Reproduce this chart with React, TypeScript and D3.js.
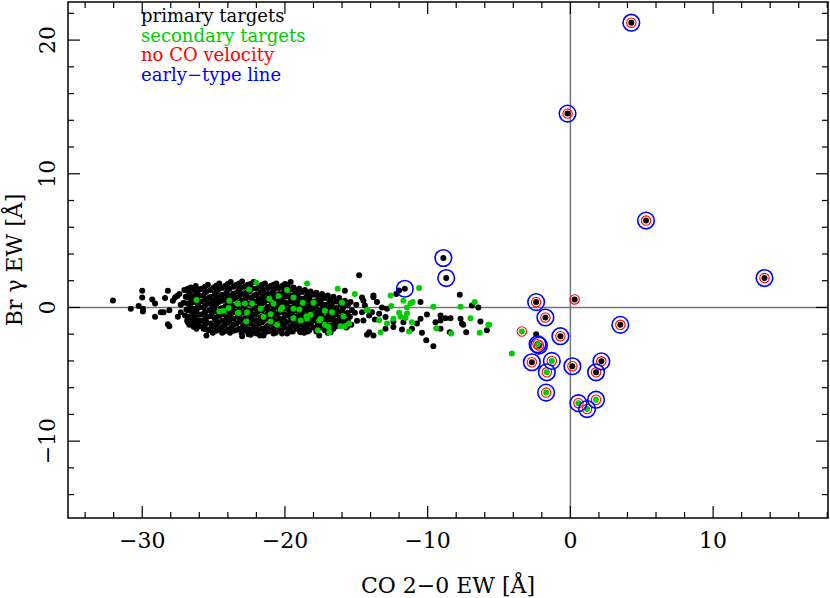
import React from 'react';
import * as d3 from 'd3';

// primary targets (black dots)
const primary: [number, number][] = [
  // left outliers
  [-32.05, 0.52], [-30.8, -0.1], [-30.0, 1.25], [-30.0, 0.75], [-30.25, 0.1], [-29.95, -0.1], [-29.95, -0.3],
  [-29.3, 0.6], [-29.1, 0.3], [-29.1, -0.7], [-28.7, -0.35], [-28.5, -0.35], [-28.4, 0.7], [-28.2, 1.25],
  [-28.1, -0.2], [-28.2, -1.25], [-28.1, -1.4], [-27.85, 0.5], [-27.7, 0.75], [-27.55, 0.85], [-27.3, 0.2],
  [-27.3, -0.35], [-26.8, 1.4], [-25.7, -1.6], [-25.5, -2.1], [-24.9, -1.35], [-27.4, 1.0], [-27.5, -0.7],
  // main cloud
  [-27.05, 1.3], [-26.95, 0.8], [-27.1, 0.35], [-26.9, -0.15], [-27.0, -0.6], [-26.85, -1.0],
  [-26.6, 1.5], [-26.7, 1.0], [-26.55, 0.6], [-26.65, 0.1], [-26.5, -0.4], [-26.6, -0.9], [-26.7, -1.3],
  [-26.25, 1.6], [-26.15, 1.1], [-26.3, 0.75], [-26.1, 0.2], [-26.2, -0.3], [-26.3, -0.8], [-26.1, -1.2], [-26.2, -1.6],
  [-25.85, 1.4], [-25.75, 0.9], [-25.9, 0.45], [-25.7, 0.0], [-25.8, -0.5], [-25.9, -1.0], [-25.75, -1.45],
  [-25.4, 1.7], [-25.5, 1.2], [-25.35, 0.7], [-25.45, 0.3], [-25.3, -0.2], [-25.4, -0.7], [-25.5, -1.1], [-25.35, -1.7],
  [-25.0, 1.5], [-24.9, 1.0], [-25.05, 0.5], [-24.95, 0.05], [-25.1, -0.4], [-24.9, -0.9], [-25.0, -1.4], [-25.05, -1.9],
  [-24.6, 1.8], [-24.7, 1.3], [-24.55, 0.8], [-24.65, 0.4], [-24.5, -0.1], [-24.6, -0.6], [-24.7, -1.1], [-24.55, -1.6],
  [-24.2, 1.6], [-24.1, 1.1], [-24.25, 0.6], [-24.15, 0.1], [-24.3, -0.3], [-24.1, -0.8], [-24.2, -1.3], [-24.25, -1.8],
  [-23.8, 1.9], [-23.9, 1.4], [-23.75, 0.9], [-23.85, 0.45], [-23.7, 0.0], [-23.8, -0.5], [-23.9, -1.0], [-23.75, -1.5], [-23.85, -1.9],
  [-23.4, 1.7], [-23.3, 1.2], [-23.45, 0.7], [-23.35, 0.2], [-23.5, -0.3], [-23.3, -0.7], [-23.4, -1.2], [-23.45, -1.7],
  [-23.0, 1.95], [-23.1, 1.5], [-22.95, 1.0], [-23.05, 0.5], [-22.9, 0.1], [-23.0, -0.4], [-23.1, -0.9], [-22.95, -1.4], [-23.05, -1.9],
  [-22.6, 1.7], [-22.5, 1.2], [-22.65, 0.8], [-22.55, 0.3], [-22.7, -0.2], [-22.5, -0.6], [-22.6, -1.1], [-22.65, -1.6], [-22.55, -2.0],
  [-22.2, 1.9], [-22.3, 1.4], [-22.15, 0.9], [-22.25, 0.5], [-22.1, 0.0], [-22.2, -0.5], [-22.3, -0.9], [-22.15, -1.4], [-22.25, -1.85],
  [-21.8, 1.6], [-21.7, 1.1], [-21.85, 0.6], [-21.75, 0.2], [-21.9, -0.3], [-21.7, -0.8], [-21.8, -1.2], [-21.85, -1.7], [-21.75, -2.1],
  [-21.4, 1.8], [-21.5, 1.3], [-21.35, 0.9], [-21.45, 0.4], [-21.3, -0.1], [-21.4, -0.6], [-21.5, -1.0], [-21.35, -1.5], [-21.45, -1.9],
  [-21.0, 1.6], [-20.9, 1.1], [-21.05, 0.7], [-20.95, 0.2], [-21.1, -0.3], [-20.9, -0.7], [-21.0, -1.2], [-21.05, -1.7],
  [-20.6, 1.8], [-20.7, 1.4], [-20.55, 0.9], [-20.65, 0.4], [-20.5, 0.0], [-20.6, -0.5], [-20.7, -1.0], [-20.55, -1.4], [-20.65, -1.9],
  [-20.2, 1.6], [-20.1, 1.1], [-20.25, 0.6], [-20.15, 0.2], [-20.3, -0.3], [-20.1, -0.8], [-20.2, -1.2], [-20.25, -1.7],
  [-19.8, 1.7], [-19.9, 1.2], [-19.75, 0.8], [-19.85, 0.3], [-19.7, -0.2], [-19.8, -0.6], [-19.9, -1.1], [-19.75, -1.6], [-19.85, -1.95],
  [-19.4, 1.5], [-19.3, 1.0], [-19.45, 0.5], [-19.35, 0.1], [-19.5, -0.4], [-19.3, -0.9], [-19.4, -1.3], [-19.45, -1.8],
  [-19.0, 1.4], [-19.1, 0.9], [-18.95, 0.5], [-19.05, 0.0], [-18.9, -0.5], [-19.0, -0.9], [-19.1, -1.4], [-18.95, -1.8],
  [-18.6, 1.3], [-18.5, 0.8], [-18.65, 0.3], [-18.55, -0.1], [-18.7, -0.6], [-18.5, -1.1], [-18.6, -1.5], [-18.65, -1.9],
  [-18.2, 1.2], [-18.3, 0.7], [-18.15, 0.2], [-18.25, -0.3], [-18.1, -0.7], [-18.2, -1.2], [-18.3, -1.7],
  [-17.8, 1.1], [-17.7, 0.6], [-17.85, 0.1], [-17.75, -0.4], [-17.9, -0.8], [-17.7, -1.3], [-17.8, -1.8],
  [-17.4, 1.0], [-17.5, 0.5], [-17.35, 0.0], [-17.45, -0.5], [-17.3, -0.9], [-17.4, -1.4],
  [-17.0, 0.9], [-16.9, 0.4], [-17.05, -0.1], [-16.95, -0.6], [-17.1, -1.0], [-16.9, -1.5], [-17.0, -1.9],
  [-16.6, 0.8], [-16.7, 0.3], [-16.55, -0.2], [-16.65, -0.7], [-16.5, -1.1], [-16.6, -1.6],
  [-16.2, 0.7], [-16.1, 0.2], [-16.25, -0.3], [-16.15, -0.8], [-16.3, -1.2],
  [-15.8, 0.5], [-15.9, 0.0], [-15.75, -0.5], [-15.85, -1.0], [-15.7, -1.5],
  [-15.4, 0.4], [-15.3, -0.2], [-15.45, -0.7], [-15.35, -1.3],
  [-15.0, 0.2], [-15.1, -0.4], [-14.95, -1.0],
  // cloud edges
  [-19.6, 1.9], [-15.8, 1.25], [-14.6, 0.75], [-14.8, 2.4], [-23.0, -2.15], [-21.5, -2.1], [-20.2, -1.95],
  [-17.6, -2.1], [-16.8, -1.85], [-15.65, -1.45], [-18.9, -1.85],
  // right tail
  [-13.8, 0.77], [-13.55, 0.4], [-14.5, 0.5], [-14.4, 0.15], [-13.2, 0.0], [-12.85, -0.1], [-14.6, -0.35],
  [-13.9, -0.35], [-13.4, -0.47], [-14.1, -0.6], [-12.95, -0.72], [-14.5, -0.97], [-13.7, -0.9], [-12.4, -1.05],
  [-11.7, -1.1], [-10.5, 0.4], [-10.5, -0.85], [-10.75, -1.2], [-10.05, -0.52], [-9.1, -0.6], [-8.75, -0.8],
  [-8.4, -0.8], [-9.1, -0.97], [-9.45, -1.1], [-9.1, -1.6], [-8.45, -1.85], [-7.7, -0.85], [-7.6, -1.2],
  [-7.5, -1.3], [-7.3, -1.85], [-7.75, 0.95], [-6.9, 0.15], [-6.45, 0.0], [-6.3, -1.05], [-5.85, -1.7],
  [-10.4, -1.9], [-10.1, -2.45], [-9.6, -2.9], [-11.1, -1.6], [-11.8, -1.65], [-12.4, -1.47], [-12.95, -1.6],
  [-13.8, -2.1], [-14.25, -2.05], [-12.2, 1.0], [-12.0, 1.27], [-14.1, -1.85], [-13.8, 0.9],
  // early-type and no-CO-velocity objects
  [-11.6, 1.4], [-8.9, 3.7], [-8.7, 2.2],
  [4.27, 21.3], [-0.2, 14.5], [5.3, 6.5], [13.6, 2.2], [3.5, -1.3], [-2.4, 0.4], [0.3, 0.6],
  [-1.75, -0.75], [-2.4, -2.0], [-0.7, -2.15], [-2.2, -2.85], [-2.7, -4.1], [0.14, -4.4], [2.17, -4.03], [1.8, -4.85],
];

// more primary targets filling the dense core, listed per column: [x, y values]
const primaryCore: [number, number[]][] = [
  [-26.8, [1.25, 0.75, 0.3, -0.2, -0.7, -1.1]],
  [-26.4, [1.3, 0.85, 0.4, -0.1, -0.6, -1.05, -1.45]],
  [-26.0, [1.35, 0.9, 0.45, 0.0, -0.55, -1.0, -1.4]],
  [-25.6, [1.55, 1.1, 0.6, 0.15, -0.35, -0.85, -1.3, -1.6]],
  [-25.2, [1.3, 0.8, 0.25, -0.2, -0.65, -1.2, -1.6]],
  [-24.8, [1.65, 1.15, 0.7, 0.25, -0.3, -0.75, -1.25, -1.75]],
  [-24.4, [1.45, 0.95, 0.5, -0.05, -0.5, -1.0, -1.45, -1.9]],
  [-24.0, [1.75, 1.3, 0.8, 0.3, -0.2, -0.65, -1.15, -1.65]],
  [-23.6, [1.55, 1.05, 0.6, 0.1, -0.35, -0.85, -1.3, -1.75]],
  [-23.2, [1.8, 1.35, 0.85, 0.35, -0.15, -0.6, -1.05, -1.6]],
  [-22.8, [1.55, 1.1, 0.6, 0.2, -0.3, -0.8, -1.25, -1.75]],
  [-22.4, [1.75, 1.3, 0.75, 0.25, -0.25, -0.7, -1.2, -1.65, -2.05]],
  [-22.0, [1.4, 0.95, 0.45, -0.1, -0.55, -1.0, -1.5, -1.95]],
  [-21.6, [1.7, 1.25, 0.75, 0.3, -0.2, -0.65, -1.1, -1.6]],
  [-21.2, [1.45, 1.0, 0.55, 0.05, -0.45, -0.85, -1.35, -1.8]],
  [-20.8, [1.7, 1.25, 0.8, 0.3, -0.15, -0.6, -1.05, -1.55, -1.95]],
  [-20.4, [1.45, 1.0, 0.55, 0.1, -0.4, -0.85, -1.3, -1.75]],
  [-20.0, [1.75, 1.3, 0.8, 0.35, -0.1, -0.55, -1.05, -1.5]],
  [-19.6, [1.35, 0.9, 0.45, -0.05, -0.5, -0.95, -1.4, -1.8]],
  [-19.2, [1.25, 0.7, 0.3, -0.25, -0.7, -1.15, -1.6]],
  [-18.8, [1.15, 0.65, 0.15, -0.35, -0.8, -1.3, -1.7]],
  [-18.4, [1.0, 0.5, 0.05, -0.45, -0.9, -1.35, -1.8]],
  [-18.0, [0.95, 0.45, -0.05, -0.5, -1.0, -1.5]],
  [-17.6, [0.8, 0.3, -0.2, -0.65, -1.1, -1.55]],
  [-17.2, [0.7, 0.2, -0.3, -0.8, -1.2, -1.7]],
  [-16.8, [0.55, 0.05, -0.45, -0.9, -1.35]],
  [-16.4, [0.45, -0.05, -0.5, -1.0, -1.4]],
  [-16.0, [0.2, -0.25, -0.7, -1.2]],
  [-15.6, [0.15, -0.4, -0.95]],
];

// secondary targets (green dots)
const secondary: [number, number][] = [
  [-26.2, 0.55], [-23.9, 0.5], [-23.35, 0.3], [-24.6, -0.3], [-24.3, -0.25], [-23.95, -0.05], [-23.3, -0.4],
  [-22.0, 1.85], [-18.45, 1.8], [-16.3, 1.4], [-15.1, 1.0], [-22.5, 1.35], [-19.85, 1.3], [-19.4, 0.75],
  [-21.1, 0.65], [-20.45, 0.85], [-23.3, 0.3], [-22.8, 0.3], [-22.3, 0.3], [-20.8, 0.3], [-20.2, 0.0],
  [-18.75, 0.35], [-18.0, 0.35], [-16.0, 0.35], [-14.25, -0.2], [-21.7, -0.1], [-19.4, -0.1], [-19.0, -0.15],
  [-17.2, -0.25], [-16.7, -0.35], [-23.25, -0.4], [-22.65, -0.35], [-20.3, -0.15], [-21.0, -0.5], [-18.2, -0.55],
  [-18.5, -0.65], [-21.5, -0.7], [-19.4, -0.8], [-18.45, -0.85], [-17.5, -0.85], [-15.9, -0.65], [-22.7, -1.05],
  [-21.0, -1.05], [-20.55, -1.3], [-18.9, -0.97], [-17.6, -0.97], [-17.2, -1.3], [-16.1, -1.4], [-15.8, -1.4],
  [-15.5, -1.2], [-17.7, -1.7], [-16.9, -1.85], [-16.95, -1.45],
  [-10.6, 1.45], [-12.6, 0.9], [-11.7, 0.5], [-11.2, 0.3], [-11.05, 0.4], [-12.55, 0.1], [-11.45, 0.0],
  [-9.6, 0.05], [-7.7, 0.05], [-6.7, 0.4], [-14.2, -0.2], [-12.0, -0.4], [-11.45, -0.45], [-11.9, -0.7],
  [-12.4, -0.85], [-13.4, -0.95], [-11.1, -1.1], [-7.0, -0.8], [-12.85, -1.2], [-5.7, -1.3], [-9.4, -1.55],
  [-13.3, -1.85], [-11.3, -1.8], [-8.35, -1.95], [-6.35, -1.9], [-11.55, -0.77], [-5.75, -1.3],
  [-4.1, -3.45], [-3.4, -1.8],
  [-2.3, -2.75], [-1.3, -4.0], [-1.65, -4.85], [-1.7, -6.37], [0.56, -7.16], [1.17, -7.6], [1.8, -6.9],
];

// objects with no CO velocity (red rings)
const noCoVelocity: [number, number][] = [
  [4.27, 21.3], [-0.2, 14.5], [5.3, 6.5], [13.6, 2.2], [3.5, -1.3], [-2.4, 0.4], [0.3, 0.6], [-3.4, -1.8],
  [-1.75, -0.75], [-0.7, -2.15], [-2.3, -2.75], [-2.2, -2.85], [-2.7, -4.1], [-1.3, -4.0], [-1.65, -4.85],
  [0.14, -4.4], [2.17, -4.03], [1.8, -4.85], [-1.7, -6.37], [0.56, -7.16], [1.17, -7.6], [1.8, -6.9],
];

// objects with early-type lines (blue rings)
const earlyType: [number, number][] = [
  [-11.6, 1.4], [-8.9, 3.7], [-8.7, 2.2],
  [4.27, 21.3], [-0.2, 14.5], [5.3, 6.5], [13.6, 2.2], [3.5, -1.3], [-2.4, 0.4],
  [-1.75, -0.75], [-0.7, -2.15], [-2.3, -2.75], [-2.2, -2.85], [-2.7, -4.1], [-1.3, -4.0], [-1.65, -4.85],
  [0.14, -4.4], [2.17, -4.03], [1.8, -4.85], [-1.7, -6.37], [0.56, -7.16], [1.17, -7.6], [1.8, -6.9],
];

const xMajor = [-30, -20, -10, 0, 10];
const yMajor = [-10, 0, 10, 20];
const legendItems = [
  { label: 'primary targets', color: '#000000' },
  { label: 'secondary targets', color: '#00cc00' },
  { label: 'no CO velocity', color: '#ff0000' },
  { label: 'early\u2212type line', color: '#0000ff' },
];

const fmt = (v: number) => (v < 0 ? '\u2212' + Math.abs(v) : String(v));

export default function App() {
  const width = 830;
  const height = 598;
  const left = 68, right = 828, top = 2, bottom = 518;

  const x = d3.scaleLinear().domain([-35.2, 18.05]).range([left, right]);
  const y = d3.scaleLinear().domain([-15.75, 22.85]).range([bottom, top]);

  const xMinor = d3.range(-34, 18.01, 2).filter((v) => !xMajor.includes(v));
  const yMinor = d3.range(-14, 22.01, 2).filter((v) => !yMajor.includes(v));
  const font = '"DejaVu Serif", serif';

  const core: [number, number][] = primaryCore.flatMap(([cx, ys]) => ys.map((cy) => [cx, cy] as [number, number]));
  const blacks = core.concat(primary);

  return (
    <svg width={width} height={height} style={{ position: 'absolute', left: 0, top: 0, background: '#fff' }}>
      <rect x={0} y={0} width={width} height={height} fill="#fff" />

      {/* zero lines */}
      <line x1={x(0)} x2={x(0)} y1={top} y2={bottom} stroke="#777" strokeWidth={1.5} />
      <line x1={left} x2={right} y1={y(0)} y2={y(0)} stroke="#777" strokeWidth={1.5} />

      {/* points */}
      <g>
        {blacks.map((d, i) => (
          <circle key={'p' + i} cx={x(d[0])} cy={y(d[1])} r={3} fill="#000" />
        ))}
        {secondary.map((d, i) => (
          <circle key={'s' + i} cx={x(d[0])} cy={y(d[1])} r={3} fill="#00cc00" />
        ))}
        {noCoVelocity.map((d, i) => (
          <circle key={'r' + i} cx={x(d[0])} cy={y(d[1])} r={4.7} fill="none" stroke="#ff0000" strokeWidth={1.1} />
        ))}
        {earlyType.map((d, i) => (
          <circle key={'b' + i} cx={x(d[0])} cy={y(d[1])} r={8.3} fill="none" stroke="#0000ff" strokeWidth={1.6} />
        ))}
      </g>

      {/* frame */}
      <rect x={left} y={top} width={right - left} height={bottom - top} fill="none" stroke="#000" strokeWidth={1.5} />

      {/* ticks */}
      <g stroke="#000" strokeWidth={1.2}>
        {xMajor.map((v) => (
          <g key={'xm' + v}>
            <line x1={x(v)} x2={x(v)} y1={bottom} y2={bottom - 12} />
            <line x1={x(v)} x2={x(v)} y1={top} y2={top + 12} />
          </g>
        ))}
        {xMinor.map((v) => (
          <g key={'xn' + v}>
            <line x1={x(v)} x2={x(v)} y1={bottom} y2={bottom - 6} />
            <line x1={x(v)} x2={x(v)} y1={top} y2={top + 6} />
          </g>
        ))}
        {yMajor.map((v) => (
          <g key={'ym' + v}>
            <line x1={left} x2={left + 12} y1={y(v)} y2={y(v)} />
            <line x1={right} x2={right - 12} y1={y(v)} y2={y(v)} />
          </g>
        ))}
        {yMinor.map((v) => (
          <g key={'yn' + v}>
            <line x1={left} x2={left + 6} y1={y(v)} y2={y(v)} />
            <line x1={right} x2={right - 6} y1={y(v)} y2={y(v)} />
          </g>
        ))}
      </g>

      {/* tick labels */}
      <g fontFamily={font} fontSize={22} fill="#000">
        {xMajor.map((v) => (
          <text key={'xl' + v} x={x(v)} y={548} textAnchor="middle">
            {fmt(v)}
          </text>
        ))}
        {yMajor.map((v) => (
          <text key={'yl' + v} transform={`translate(55, ${y(v)}) rotate(-90)`} textAnchor="middle">
            {fmt(v)}
          </text>
        ))}
      </g>

      {/* axis titles */}
      <text x={(left + right) / 2} y={593} textAnchor="middle" fontFamily={font} fontSize={22}>
        CO 2{'\u2212'}0 EW [Å]
      </text>
      <text transform={`translate(22, ${(top + bottom) / 2}) rotate(-90)`} textAnchor="middle" fontFamily={font} fontSize={22}>
        Br γ EW [Å]
      </text>

      {/* legend */}
      <g fontFamily={font} fontSize={18}>
        {legendItems.map((d, i) => (
          <text key={d.label} x={141} y={22 + i * 19.7} fill={d.color}>
            {d.label}
          </text>
        ))}
      </g>
    </svg>
  );
}
